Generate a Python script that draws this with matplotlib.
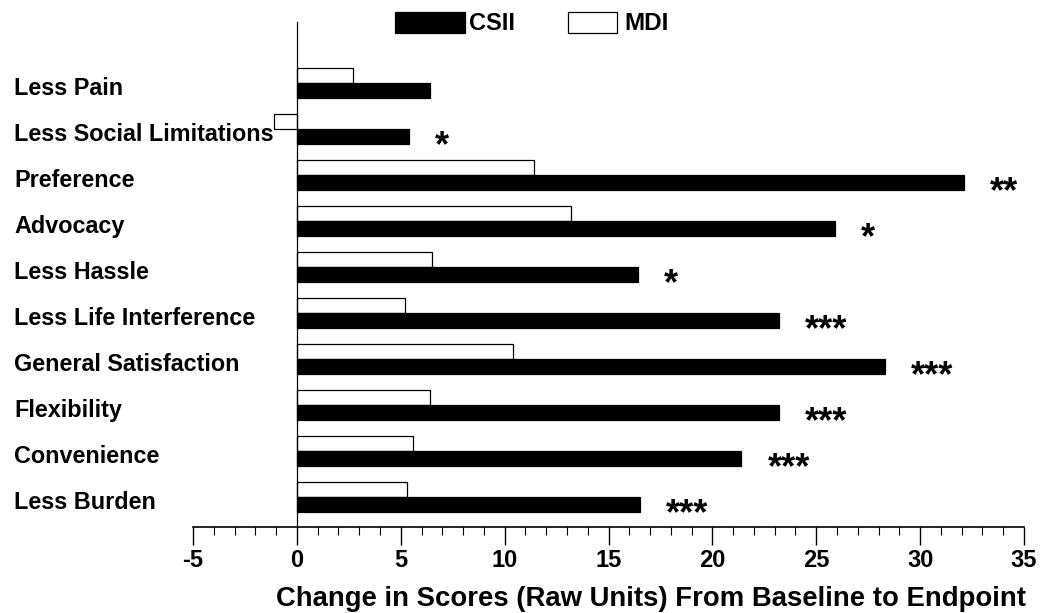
import matplotlib
matplotlib.use("Agg")
import matplotlib.pyplot as plt
from matplotlib.patches import Rectangle
from matplotlib.ticker import MultipleLocator
import matplotlib.transforms as mtransforms

categories = ["Less Pain", "Less Social Limitations", "Preference", "Advocacy",
              "Less Hassle", "Less Life Interference", "General Satisfaction",
              "Flexibility", "Convenience", "Less Burden"]
csii = [6.4, 5.4, 32.1, 25.9, 16.4, 23.2, 28.3, 23.2, 21.4, 16.5]
mdi = [2.7, -1.1, 11.4, 13.2, 6.5, 5.2, 10.4, 6.4, 5.6, 5.3]
stars = ["", "*", "**", "*", "*", "***", "***", "***", "***", "***"]
xticks = [-5, 0, 5, 10, 15, 20, 25, 30, 35]
xticklabels = ["-5", "0", "5", "10", "15", "20", "25", "30", "35"]

plt.rcParams['font.family'] = ['Liberation Sans', 'DejaVu Sans']
plt.rcParams['font.weight'] = 'bold'

W, H = 1049, 613
fig = plt.figure(figsize=(W/100, H/100), dpi=100)
ax = fig.add_axes([193/W, 1-527/H, (1024-193)/W, (527-22)/H])

bh = 0.325
ypos = list(range(len(categories)))
ax.barh([y - bh/2 for y in ypos], mdi, height=bh, color='white', edgecolor='black', linewidth=0.9)
ax.barh([y + bh/2 for y in ypos], csii, height=bh, color='black', edgecolor='black', linewidth=0.9)

ax.set_xlim(-5, 35)
ax.set_ylim(9.65, -1.32)

for y, v, s in zip(ypos, csii, stars):
    if s:
        ax.text(v + 1.25, y + bh/2 + 0.22, s, ha='left', va='center', fontsize=26, fontweight='bold')

trans = mtransforms.blended_transform_factory(fig.transFigure, ax.transData)
for y, c in zip(ypos, categories):
    ax.text(14/W, y + 0.12, c, transform=trans, ha='left', va='center', fontsize=16.8, fontweight='bold')

for sp in ['top', 'right']:
    ax.spines[sp].set_visible(False)
ax.spines['left'].set_position(('data', 0))
ax.spines['left'].set_linewidth(0.9)
ax.spines['bottom'].set_linewidth(1.2)
ax.set_yticks([])
ax.set_xticks(xticks)
ax.set_xticklabels(xticklabels)
ax.xaxis.set_minor_locator(MultipleLocator(1))
ax.tick_params(axis='x', which='major', length=13, width=1, direction='out', labelsize=17, pad=3)
ax.tick_params(axis='x', which='minor', length=6, width=0.8, direction='out')
for lab in ax.get_xticklabels():
    lab.set_fontweight('bold')
ax.set_xlabel("Change in Scores (Raw Units) From Baseline to Endpoint", fontsize=19.8, fontweight='bold', labelpad=9)
ax.xaxis.set_label_coords((651-193)/(1024-193), -(599-527)/(527-22))
ax.xaxis.label.set_va('center')

# legend
fig.patches.append(Rectangle((395/W, 1-33/H), 70/W, 21/H, transform=fig.transFigure,
                             facecolor='black', edgecolor='black', linewidth=0.9))
fig.text(469/W, 1-23/H, "CSII", ha='left', va='center', fontsize=17, fontweight='bold')
fig.patches.append(Rectangle((568/W, 1-33/H), 49/W, 21/H, transform=fig.transFigure,
                             facecolor='white', edgecolor='black', linewidth=0.9))
fig.text(624/W, 1-23/H, "MDI", ha='left', va='center', fontsize=17.5, fontweight='bold')

fig.savefig("out.png", dpi=100)
